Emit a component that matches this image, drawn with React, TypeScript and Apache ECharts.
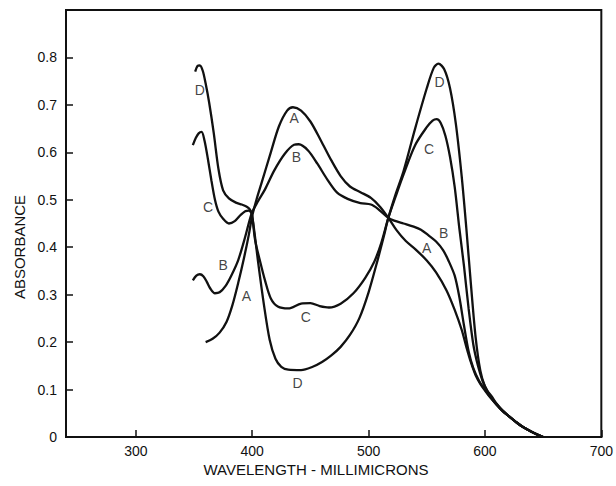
import React, { useEffect, useRef } from "react";
import * as echarts from "echarts";

// ---- data (wavelength in millimicrons, absorbance) ----
const waveA = [360, 366, 372, 378, 383, 388, 393, 397, 400, 404, 408, 416, 423, 430, 435, 442, 450, 459, 468, 476, 484, 493, 502, 510, 517, 524, 532, 541, 550, 558, 567, 574, 580, 584, 588, 592, 596, 600, 605, 610, 615, 621, 627, 632, 640, 646, 650];
const absA = [0.200, 0.207, 0.220, 0.243, 0.278, 0.325, 0.378, 0.425, 0.466, 0.503, 0.535, 0.600, 0.655, 0.688, 0.695, 0.688, 0.665, 0.625, 0.583, 0.550, 0.528, 0.516, 0.504, 0.485, 0.462, 0.436, 0.413, 0.394, 0.372, 0.347, 0.309, 0.268, 0.226, 0.190, 0.157, 0.130, 0.112, 0.098, 0.082, 0.068, 0.055, 0.043, 0.031, 0.022, 0.011, 0.004, 0];

const waveB = [349, 352, 355, 358, 361, 364, 368, 372, 377, 382, 388, 394, 399.5, 405, 411, 419, 428, 436, 440, 448, 456, 465, 473, 482, 493, 502, 508, 517, 522, 530, 538, 545, 552, 558, 564, 569, 574, 578, 582, 586, 590, 595, 600, 605, 610, 615, 621, 627, 632, 640, 646, 650];
const absB = [0.330, 0.340, 0.343, 0.339, 0.327, 0.313, 0.303, 0.305, 0.318, 0.340, 0.373, 0.422, 0.471, 0.497, 0.522, 0.562, 0.597, 0.616, 0.617, 0.604, 0.576, 0.541, 0.515, 0.502, 0.493, 0.490, 0.481, 0.462, 0.456, 0.450, 0.444, 0.437, 0.424, 0.412, 0.394, 0.370, 0.340, 0.295, 0.235, 0.180, 0.145, 0.118, 0.100, 0.083, 0.068, 0.055, 0.043, 0.031, 0.022, 0.011, 0.004, 0];

const waveC = [349, 351.5, 354, 356.5, 359, 362, 365, 368, 371, 375, 380, 385, 390, 394, 397, 399.5, 402.5, 406.5, 411, 416, 422, 431, 442, 450, 458, 466, 476, 487, 497, 505, 511, 517, 523, 530, 540, 550, 555, 558.5, 562, 566, 570, 574, 578, 582, 586, 590, 594, 598, 602, 606, 610, 615, 621, 627, 632, 640, 646, 650];
const absC = [0.615, 0.630, 0.640, 0.643, 0.625, 0.585, 0.540, 0.500, 0.475, 0.460, 0.450, 0.455, 0.468, 0.476, 0.477, 0.471, 0.415, 0.373, 0.330, 0.292, 0.275, 0.271, 0.281, 0.282, 0.276, 0.273, 0.281, 0.303, 0.335, 0.370, 0.410, 0.462, 0.505, 0.553, 0.615, 0.653, 0.667, 0.670, 0.662, 0.635, 0.590, 0.527, 0.440, 0.360, 0.270, 0.195, 0.150, 0.118, 0.098, 0.085, 0.070, 0.056, 0.043, 0.031, 0.022, 0.011, 0.004, 0];

const waveD = [351, 353, 355, 357.5, 360, 363, 367, 371, 375, 380, 386, 391, 395, 397.5, 399.5, 402, 405, 410, 415, 420, 425, 431, 442, 452, 460, 468, 476, 484, 492, 500, 508, 513, 517, 523, 530, 540, 550, 556, 560, 565, 570, 575, 580, 584, 588, 592, 596, 600, 605, 610, 615, 621, 627, 632, 640, 646, 650];
const absD = [0.770, 0.782, 0.783, 0.772, 0.745, 0.705, 0.640, 0.565, 0.520, 0.503, 0.494, 0.490, 0.486, 0.481, 0.472, 0.430, 0.370, 0.280, 0.205, 0.165, 0.148, 0.142, 0.141, 0.148, 0.158, 0.172, 0.190, 0.215, 0.250, 0.305, 0.375, 0.422, 0.462, 0.510, 0.560, 0.650, 0.735, 0.778, 0.787, 0.775, 0.735, 0.660, 0.550, 0.440, 0.320, 0.210, 0.140, 0.106, 0.085, 0.070, 0.056, 0.043, 0.031, 0.022, 0.011, 0.004, 0];

// curve letter annotations
const labelLetters = ["D", "A", "B", "D", "C", "C", "B", "A", "B", "A", "C", "D"];
const labelWave = [355, 436, 438, 561, 552, 362, 564.5, 550, 375, 395, 446, 439];
const labelAbs = [0.731, 0.672, 0.590, 0.748, 0.606, 0.485, 0.430, 0.399, 0.362, 0.297, 0.253, 0.113];

const xMin = 240;
const xMax = 700;
const yMin = 0;
const yMax = 0.9;
const xTitle = "WAVELENGTH - MILLIMICRONS";
const yTitle = "ABSORBANCE";

const FONT = "'Liberation Sans', Arial, sans-serif";
const INK = "#111";

function zip(xs: number[], ys: number[]) {
  return xs.map((x, i) => [x, ys[i]]);
}

export default function App() {
  const ref = useRef<HTMLDivElement>(null);
  useEffect(() => {
    if (!ref.current) return;
    const chart = echarts.init(ref.current, null, { renderer: "svg" });
    const curves = [
      { name: "A", w: waveA, a: absA },
      { name: "B", w: waveB, a: absB },
      { name: "C", w: waveC, a: absC },
      { name: "D", w: waveD, a: absD },
    ];
    const lineSeries = curves.map((c) => ({
      type: "line",
      name: c.name,
      data: zip(c.w, c.a),
      smooth: 0.3,
      showSymbol: false,
      symbol: "none",
      silent: true,
      lineStyle: { color: INK, width: 2.3 },
      z: 2,
    }));
    const labelSeries = {
      type: "scatter",
      name: "labels",
      silent: true,
      symbolSize: 1,
      itemStyle: { color: "rgba(0,0,0,0)" },
      data: labelLetters.map((l, i) => ({ name: l, value: [labelWave[i], labelAbs[i]] })),
      label: {
        show: true,
        position: "inside",
        formatter: "{b}",
        color: INK,
        fontFamily: FONT,
        fontSize: 14,
        align: "center",
        verticalAlign: "middle",
      },
      z: 3,
    };
    chart.setOption({
      animation: false,
      backgroundColor: "#fff",
      grid: {
        left: 66,
        right: 10,
        top: 10,
        bottom: 49,
        show: true,
        borderColor: INK,
        borderWidth: 2,
        backgroundColor: "transparent",
      },
      xAxis: {
        type: "value",
        min: xMin,
        max: xMax,
        splitNumber: 5,
        axisLine: { show: true, onZero: false, lineStyle: { color: INK, width: 2 } },
        axisTick: { show: true, inside: true, length: 7, lineStyle: { color: INK, width: 1.5 } },
        splitLine: { show: false },
        axisLabel: {
          showMinLabel: false,
          color: INK,
          fontFamily: FONT,
          fontSize: 14,
          margin: 7,
          formatter: (v: number) => (v % 100 === 0 ? String(v) : ""),
        },
      },
      yAxis: {
        type: "value",
        min: yMin,
        max: yMax,
        interval: 0.1,
        axisLine: { show: true, lineStyle: { color: INK, width: 2 } },
        axisTick: { show: true, inside: true, length: 7, lineStyle: { color: INK, width: 1.5 } },
        splitLine: { show: false },
        axisLabel: {
          color: INK,
          fontFamily: FONT,
          fontSize: 14,
          margin: 9,
          formatter: (v: number) => (v === 0 ? "0" : v > 0.85 ? "" : v.toFixed(1)),
        },
      },
      graphic: [
        {
          type: "text",
          x: 316,
          y: 469,
          style: {
            text: xTitle,
            fill: INK,
            font: `15px ${FONT}`,
            textAlign: "center",
            textVerticalAlign: "middle",
          },
        },
        {
          type: "text",
          x: 19,
          y: 247,
          rotation: Math.PI / 2,
          style: {
            text: yTitle,
            fill: INK,
            font: `15px ${FONT}`,
            textAlign: "center",
            textVerticalAlign: "middle",
          },
        },
      ],
      series: [...lineSeries, labelSeries],
    });
    return () => chart.dispose();
  }, []);
  return (
    <div
      ref={ref}
      style={{ position: "fixed", left: 0, top: 0, width: 616, height: 486, background: "#fff" }}
    />
  );
}
